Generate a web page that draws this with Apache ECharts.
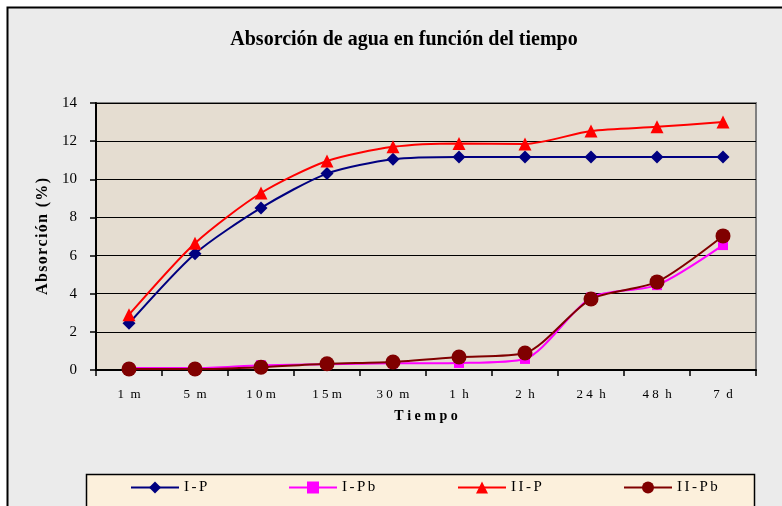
<!DOCTYPE html>
<html>
<head>
<meta charset="utf-8">
<script src="https://cdn.jsdelivr.net/npm/echarts@6/dist/echarts.min.js"></script>
<style>
  html, body { margin: 0; padding: 0; background: #ffffff; }
  #chart { width: 782px; height: 506px; }
</style>
</head>
<body>
<div id="chart"></div>
<script>
// Time points (categories) and tick labels
const categories = ['1 m', '5 m', '10m', '15m', '30 m', '1 h', '2 h', '24 h', '48 h', '7 d'];
const yTicks = [0, 2, 4, 6, 8, 10, 12, 14];

// Water absorption (%) per sample
const seriesNames = ['I-P', 'I-Pb', 'II-P', 'II-Pb'];
const valuesIP   = [2.45, 6.1, 8.5, 10.3, 11.05, 11.17, 11.17, 11.17, 11.17, 11.17];
const valuesIPb  = [0.1, 0.1, 0.25, 0.3, 0.35, 0.37, 0.58, 3.8, 4.45, 6.55];
const valuesIIP  = [2.9, 6.65, 9.28, 10.96, 11.7, 11.88, 11.85, 12.53, 12.75, 13.0];
const valuesIIPb = [0.05, 0.05, 0.15, 0.33, 0.42, 0.68, 0.89, 3.72, 4.62, 7.03];

const serif = '"Liberation Serif", "DejaVu Serif", serif';
// hair spaces give the loose letter spacing of the labels
const HAIR = '\u200A';
const spaced = (s, n) => s.split('').join(HAIR.repeat(n));

const chart = echarts.init(document.getElementById('chart'), null, { renderer: 'canvas' });

function lineSeries(name, data, color, symbol, size) {
  return {
    name: name,
    type: 'line',
    data: data,
    smooth: 0.25,
    symbol: symbol,
    symbolSize: size,
    lineStyle: { color: color, width: 2 },
    itemStyle: { color: color },
    emphasis: { disabled: true },
    z: 3
  };
}

// one legend block per series, placed along the framed legend strip
const legendLefts = [130, 288, 457, 623];
const legends = seriesNames.map((name, i) => ({
  data: [name],
  left: legendLefts[i],
  top: 480,
  padding: 0,
  itemWidth: 48,
  itemHeight: 15,
  itemGap: 0,
  selectedMode: false,
  formatter: n => spaced(n, 2),
  textStyle: { fontFamily: serif, fontSize: 15, color: '#000000' }
}));

chart.setOption({
  animation: false,
  backgroundColor: '#ffffff',
  graphic: [
    {
      type: 'rect',
      shape: { x: 7.5, y: 7.5, width: 790, height: 510 },
      style: { fill: '#ebebeb', stroke: '#000000', lineWidth: 2 },
      z: -10
    },
    {
      type: 'rect',
      shape: { x: 86.5, y: 474.5, width: 668, height: 40 },
      style: { fill: '#fcf0dc', stroke: '#000000', lineWidth: 1.5 },
      z: -5
    }
  ],
  title: {
    text: 'Absorción de agua en función del tiempo',
    left: 399,
    textAlign: 'center',
    top: 25,
    textStyle: { fontFamily: serif, fontSize: 20, fontWeight: 'bold', color: '#000000' }
  },
  legend: legends,
  grid: {
    left: 96,
    right: 26,
    top: 103,
    bottom: 136,
    show: true,
    backgroundColor: '#e5ddd1',
    borderColor: '#808080',
    borderWidth: 2
  },
  xAxis: {
    type: 'category',
    data: categories,
    boundaryGap: true,
    name: 'T i e m p o',
    nameLocation: 'middle',
    nameGap: 39,
    nameTextStyle: { fontFamily: serif, fontSize: 14, fontWeight: 'bold', color: '#000000' },
    axisLine: { lineStyle: { color: '#000000', width: 2 } },
    axisTick: { show: true, length: 6, lineStyle: { color: '#000000', width: 1.5 } },
    axisLabel: {
      fontFamily: serif, fontSize: 13, color: '#000000', margin: 18,
      formatter: v => v.split('').join(' ').replace(/ {3}/g, '  ')
    },
    splitLine: { show: false }
  },
  yAxis: {
    type: 'value',
    min: yTicks[0],
    max: yTicks[yTicks.length - 1],
    interval: 2,
    name: spaced('Absorción (%)', 1),
    nameLocation: 'middle',
    nameRotate: 90,
    nameGap: 45,
    nameTextStyle: { fontFamily: serif, fontSize: 16, fontWeight: 'bold', color: '#000000' },
    axisLine: { show: true, lineStyle: { color: '#000000', width: 2 } },
    axisTick: { show: true, length: 6, lineStyle: { color: '#000000', width: 1.5 } },
    axisLabel: { fontFamily: serif, fontSize: 15, color: '#000000', margin: 19 },
    splitLine: { show: true, lineStyle: { color: '#000000', width: 1.2 } }
  },
  series: [
    lineSeries(seriesNames[0], valuesIP, '#000080', 'diamond', 13),
    lineSeries(seriesNames[1], valuesIPb, '#ff00ff', 'rect', 10),
    lineSeries(seriesNames[2], valuesIIP, '#ff0000', 'triangle', 13),
    lineSeries(seriesNames[3], valuesIIPb, '#800000', 'circle', 15)
  ]
});
</script>
</body>
</html>
